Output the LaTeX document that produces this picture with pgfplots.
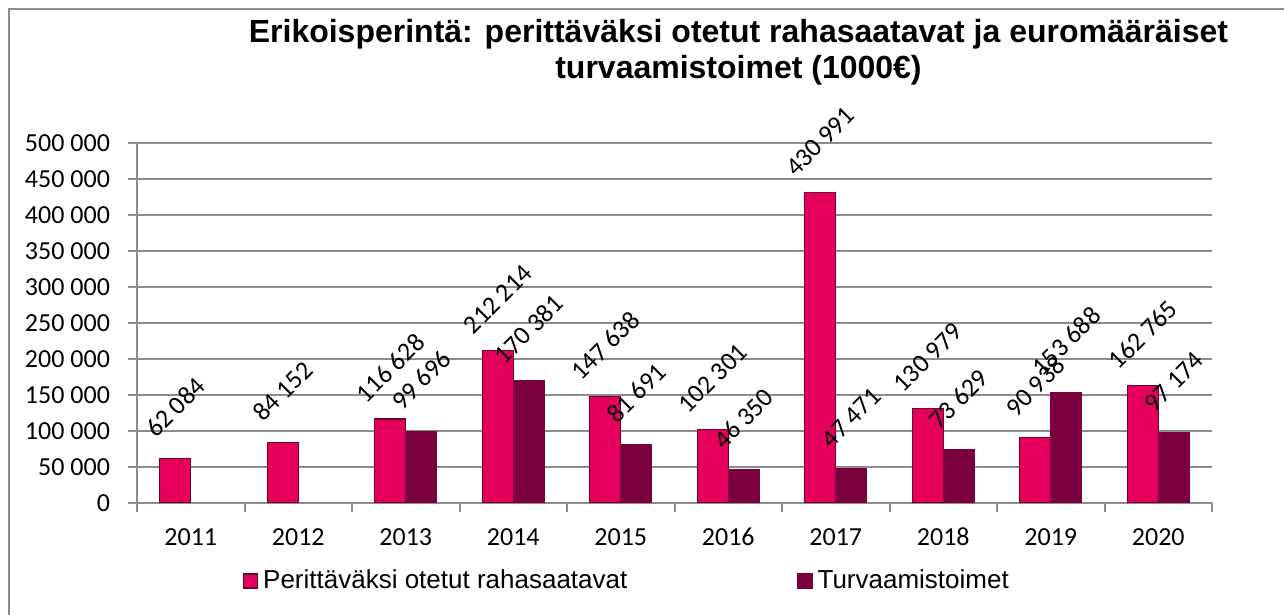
\documentclass[border=0pt]{standalone}
\usepackage{fontspec}
\setmainfont{Carlito}
\newfontfamily\arialfont{Liberation Sans}
\usepackage{pgfplots}
\pgfplotsset{compat=1.18}
\definecolor{pinkbar}{RGB}{229,0,94}
\definecolor{darkbar}{RGB}{122,0,62}
\definecolor{barborder}{RGB}{105,0,48}
\definecolor{gridgray}{RGB}{140,140,140}
\begin{document}
\begin{tikzpicture}
\path[use as bounding box] (0pt,0pt) rectangle (642pt,307.5pt);
\draw[gridgray, line width=1pt] (4.5pt,0pt) -- (4.5pt,303pt) -- (642pt,303pt);
\node[font=\arialfont\bfseries\fontsize{16}{18}\selectfont, anchor=base, inner sep=0pt] at (369.25pt,286pt) {Erikoisperintä: perittäväksi otetut rahasaatavat ja euromääräiset};
\node[font=\arialfont\bfseries\fontsize{16}{18}\selectfont, anchor=base, inner sep=0pt] at (369.25pt,268pt) {turvaamistoimet (1000€)};
\begin{axis}[
  at={(68.5pt,56pt)}, anchor=south west,
  width=537.5pt, height=180pt, scale only axis,
  ybar=0pt, bar width=15.5pt,
  xmin=-0.5, xmax=9.5, ymin=0, ymax=500000,
  axis x line*=bottom, axis y line*=left,
  axis line style={gridgray, line width=1pt},
  xtick={-0.5,0.5,1.5,2.5,3.5,4.5,5.5,6.5,7.5,8.5,9.5},
  xticklabels={},
  extra x ticks={0,1,2,3,4,5,6,7,8,9},
  extra x tick labels={2011,2012,2013,2014,2015,2016,2017,2018,2019,2020},
  extra x tick style={major tick length=0pt, grid=none, xticklabel style={text height=9pt, text depth=0pt, yshift=-8.5pt}},
  scaled y ticks=false,
  ytick={0,50000,100000,150000,200000,250000,300000,350000,400000,450000,500000},
  yticklabels={0,50 000,100 000,150 000,200 000,250 000,300 000,350 000,400 000,450 000,500 000},
  yticklabel style={xshift=-5.5pt},
  ymajorgrids, grid style={gridgray, line width=1pt},
  tick align=outside, major tick length=4.5pt,
  tick style={gridgray, line width=1pt},
  ticklabel style={font=\fontsize{13}{15}\selectfont},
  point meta=explicit symbolic,
  nodes near coords,
  every node near coord/.append style={font=\fontsize{13}{15}\selectfont, yshift=25.5pt, rotate=45, anchor=center, inner sep=0pt},
  legend columns=2,
  legend style={at={(0.0986,-0.2167)}, anchor=west, draw=none, fill=none, inner sep=0pt, outer sep=0pt,
    nodes={inner sep=0pt, font=\arialfont\fontsize{13}{15}\selectfont},
    /tikz/every odd column/.style={column sep=2.5pt},
    /tikz/every even column/.style={column sep=85pt}},
  legend image code/.code={\draw[#1] (0pt,-3.5pt) rectangle (7pt,3.5pt);},
]
\addplot[fill=pinkbar, draw=barborder, line width=0.6pt] coordinates {
(0,62084) [62 084] (1,84152) [84 152] (2,116628) [116 628] (3,212214) [212 214] (4,147638) [147 638]
(5,102301) [102 301] (6,430991) [430 991] (7,130979) [130 979] (8,90938) [90 938] (9,162765) [162 765]};
\addlegendentry{Perittäväksi otetut rahasaatavat}
\addplot[fill=darkbar, draw=darkbar, line width=0.6pt] coordinates {
(2,99696) [99 696] (3,170381) [170 381] (4,81691) [81 691] (5,46350) [46 350]
(6,47471) [47 471] (7,73629) [73 629] (8,153688) [153 688] (9,97174) [97 174]};
\addlegendentry{Turvaamistoimet}
\end{axis}
\end{tikzpicture}
\end{document}
